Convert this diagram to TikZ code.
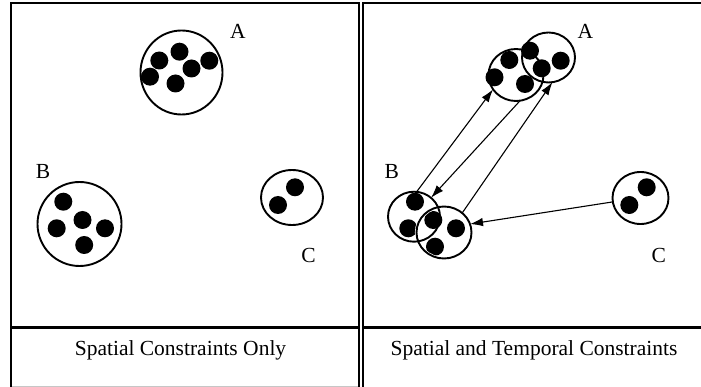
\documentclass[tikz,border=0pt]{standalone}
\usepackage{fontspec}
\setmainfont{Liberation Serif}
\usetikzlibrary{arrows.meta,shapes.geometric}
\begin{document}
\begin{tikzpicture}[x=1pt,y=-1pt,
  grp/.style={draw,ellipse,line width=1.9pt,inner sep=0pt,outer sep=0pt},
  halo/.style={draw=white,line width=3.2pt},
  lbl/.style={font=\fontsize{21.5}{24}\selectfont,anchor=base,inner sep=0pt},
  captext/.style={font=\fontsize{21.5}{24}\selectfont,anchor=base,inner sep=0pt},
  conn/.style={line width=1.1pt,-{Latex[length=13pt,width=8.5pt]}},
  frame/.style={line width=2pt}]
\useasboundingbox (0,0) rectangle (701,387);
% frames
\draw[gray!45,line width=1pt] (11,386) -- (358.7,386);
\draw[frame] (11,387) -- (11,3.2) -- (358.7,3.2) -- (358.7,387);
\draw[frame] (362.7,387) -- (362.7,3.2) -- (701,3.2);
\draw[line width=2.6pt] (11,327.5) -- (358.7,327.5);
\draw[line width=2.6pt] (362.7,327.5) -- (701,327.5);
% ---------- left panel ----------
\foreach \p in {(159.3,60.5),(179.5,51.7),(209.3,60.7),(191.5,68.5),(150,76.7),(175.5,83.5)}
  \fill \p circle[radius=9pt];
\foreach \p in {(63.3,201.7),(82.5,220),(56.7,228.3),(105,228.3),(84.2,245)}
  \fill \p circle[radius=9pt];
\foreach \p in {(295,187.3),(278,205)}
  \fill \p circle[radius=9pt];
\node[grp,minimum width=82pt,minimum height=84pt] (A1) at (181.5,72.5) {};
\node[grp,minimum width=84pt,minimum height=84pt] (B1) at (79.5,224) {};
\node[grp,minimum width=62pt,minimum height=55pt] (C1) at (292,197.5) {};
\node[lbl] (lA1) at (238,38.5) {A};
\node[lbl] (lB1) at (43,178.3) {B};
\node[lbl] (lC1) at (308.5,263) {C};
\node[captext] (cap1) at (180.5,355) {Spatial Constraints Only};
% ---------- right panel ----------
\foreach \p in {(509.3,60),(530,50.7),(494.5,77.3),(525,84),(541.7,68.3),(560.7,60.7)}
  \fill \p circle[radius=9pt];
\foreach \p in {(415,201.7),(433.3,220),(408.3,228.3),(456,228.3),(435,246.7)}
  \fill \p circle[radius=9pt];
\foreach \p in {(646.7,187.3),(629.3,205)}
  \fill \p circle[radius=9pt];
\draw[halo] (444,232.5) ellipse[x radius=27.5pt,y radius=26pt];
\node[grp,minimum width=53pt,minimum height=50pt] (AU) at (548.5,57.5) {};
\node[grp,minimum width=55pt,minimum height=52pt] (AL) at (516,75) {};
\node[grp,minimum width=52pt,minimum height=50pt] (BL) at (414,216.7) {};
\node[grp,minimum width=55pt,minimum height=52pt] (BR) at (444,232.5) {};
\node[grp,minimum width=56pt,minimum height=52pt] (C2) at (640.5,198) {};
\node[lbl] (lA2) at (585.5,38.5) {A};
\node[lbl] (lB2) at (391.7,178.5) {B};
\node[lbl] (lC2) at (658.7,262) {C};
\node[captext] (cap2) at (534,355) {Spatial and Temporal Constraints};
% connectors
\draw[conn] (BL.84) -- (AL.212);
\draw[conn] (AL.279) -- (BL.48);
\draw[conn] (BR.47) -- (AU.279);
\draw[conn] (C2.188) -- (BR.18);
\end{tikzpicture}
\end{document}
